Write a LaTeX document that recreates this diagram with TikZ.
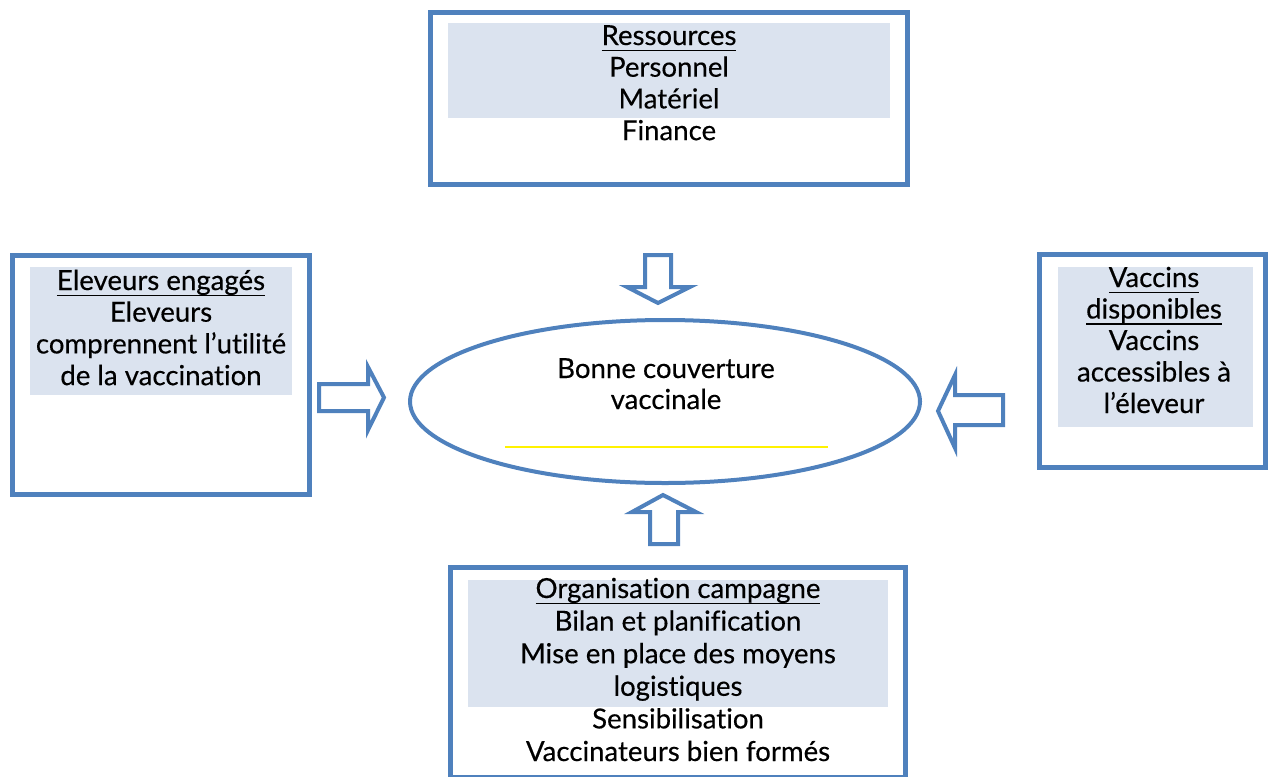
\documentclass[tikz,border=0pt]{standalone}
\usepackage{fontspec}
\setmainfont{Lato}[Ligatures=NoCommon,FakeBold=0.35]
\usetikzlibrary{shapes.geometric}
\definecolor{frame}{HTML}{4F81BD}
\definecolor{band}{HTML}{DBE3EF}
\definecolor{hilite}{HTML}{FFF200}
% underline at a fixed depth below the baseline
\newcommand\undl[1]{\setbox0=\hbox{#1}\rlap{\rule[-3pt]{\wd0}{0.7pt}}\box0}

\begin{document}
\begin{tikzpicture}[x=0.5pt,y=-0.5pt,
  boxframe/.style={draw=frame,line width=2.5pt},
  bandfill/.style={fill=band},
  txt/.style={font=\fontsize{13.8}{16}\selectfont,inner sep=0pt,anchor=base},
  blockarrow/.style={draw=frame,fill=white,line width=2pt,line join=miter}]
\clip (0,0) rectangle (1273,776);

% --- Ressources (top)
\fill[bandfill] (448,23) rectangle (890,118);
\draw[boxframe] (430,12) rectangle (907,184);
\foreach \t [count=\i] in {\undl{Ressources},Personnel,Matériel,Finance}
  \node[txt] (res\i) at (669,{45+31.7*(\i-1)}) {\t};

% --- Eleveurs engagés (left)
\fill[bandfill] (30,267) rectangle (292,395);
\draw[boxframe] (12.5,255.5) rectangle (309.5,494.5);
\foreach \t [count=\i] in {\undl{Eleveurs engagés},Eleveurs,comprennent l’utilité,de la vaccination}
  \node[txt] (elv\i) at (161,{290+31.7*(\i-1)}) {\t};

% --- Vaccins disponibles (right)
\fill[bandfill] (1058,267) rectangle (1253,427);
\draw[boxframe] (1039.5,254.5) rectangle (1265.5,467.5);
\foreach \t [count=\i] in {\undl{Vaccins},\undl{disponibles},Vaccins,accessibles à,l’éleveur}
  \node[txt] (vac\i) at (1154,{287+31.5*(\i-1)}) {\t};

% --- Organisation campagne (bottom)
\fill[bandfill] (468,580) rectangle (888,707);
\draw[boxframe] (450.5,567.5) rectangle (905.5,777);
\foreach \t [count=\i] in {\undl{Organisation campagne},Bilan et planification,Mise en place des moyens,logistiques,Sensibilisation,Vaccinateurs bien formés}
  \node[txt] (org\i) at (678,{598+32.6*(\i-1)}) {\t};

% --- central goal
\node[ellipse,draw=frame,line width=2pt,minimum width=255pt,minimum height=81.5pt,inner sep=0pt] (goal) at (665,401.5) {};
\node[txt] (goal1) at (666,378) {Bonne couverture};
\node[txt] (goal2) at (666,409) {vaccinale};
\draw[hilite,line width=0.8pt] (505,447) -- (828,447);

% --- block arrows pointing at the goal
\draw[blockarrow] (645,255) -- (671,255) -- (671,287) -- (690,287) -- (658,303)
  -- (627,287) -- (645,287) -- cycle;
\draw[blockarrow] (650,544) -- (678,544) -- (678,512) -- (696,512) -- (663,495)
  -- (632,512) -- (650,512) -- cycle;
\draw[blockarrow] (319,384) -- (368,384) -- (368,367) -- (384,397.5) -- (368,430)
  -- (368,411) -- (319,411) -- cycle;
\draw[blockarrow] (1003,395) -- (955,395) -- (955,375) -- (938,411) -- (955,448)
  -- (955,425) -- (1003,425) -- cycle;
\end{tikzpicture}
\end{document}
